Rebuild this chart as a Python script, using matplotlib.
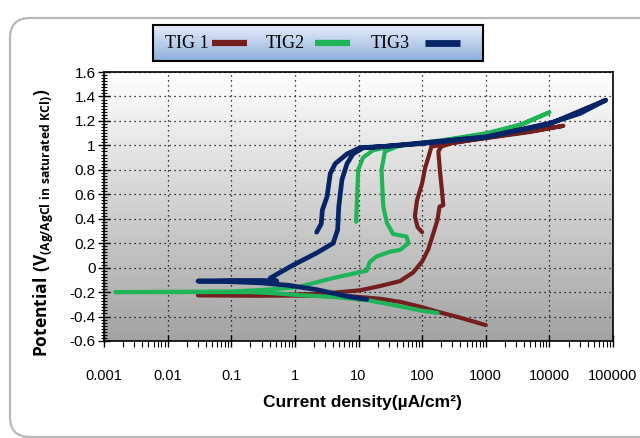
import matplotlib
matplotlib.use("Agg")
import matplotlib.pyplot as plt
import numpy as np
from matplotlib.patches import FancyBboxPatch
from matplotlib.colors import LinearSegmentedColormap
from matplotlib.ticker import FixedLocator, MultipleLocator, LogLocator, NullFormatter
from matplotlib import font_manager

# TIG 1 : cathodic -> anodic -> transpassive -> reverse scan
tig1_i = [1000, 400, 174, 94, 45, 22, 8, 2, 0.3, 0.03,
          0.3, 2.5, 10.7, 22, 45, 72, 100, 125, 150, 174, 188, 215, 205, 190, 180, 200,
          300, 1040, 5000, 16600,
          5000, 1040, 300, 140, 125, 112, 100, 83, 77, 85, 100]
tig1_v = [-0.47, -0.41, -0.36, -0.32, -0.28, -0.255, -0.235, -0.23, -0.228, -0.225,
          -0.225, -0.215, -0.185, -0.15, -0.11, -0.04, 0.05, 0.15, 0.28, 0.39, 0.5, 0.51, 0.63, 0.8, 0.95, 0.99,
          1.02, 1.065, 1.115, 1.16,
          1.11, 1.06, 1.02, 0.99, 0.9, 0.82, 0.69, 0.55, 0.42, 0.33, 0.29]

# TIG2
tig2_i = [174, 94, 31, 13.5, 4, 1.2, 0.5, 0.2, 0.0015,
          0.1, 0.36, 1.1, 4, 13.5, 15, 19, 31, 45, 61, 57, 35, 28, 24.5, 23, 26, 45,
          200, 1040, 3500, 10000,
          3500, 1040, 200, 31, 17, 11.8, 9.9, 9.5, 9.2]
tig2_v = [-0.37, -0.35, -0.3, -0.265, -0.24, -0.225, -0.21, -0.2, -0.2,
          -0.195, -0.18, -0.16, -0.085, -0.025, 0.045, 0.09, 0.13, 0.145, 0.2, 0.253, 0.275, 0.365, 0.5, 0.8, 0.95, 1.0,
          1.04, 1.1, 1.17, 1.27,
          1.165, 1.095, 1.035, 0.99, 0.96, 0.9, 0.8, 0.58, 0.375]

# TIG3
tig3_i = [13.5, 7.4, 2.2, 0.8, 0.3, 0.1, 0.03,
          0.1, 0.3, 0.52, 0.41, 0.93, 2.2, 4, 4.7, 4.9, 5.5, 6.6, 8.2, 11.8, 24,
          100, 1000, 10000, 30000, 77000,
          10000, 1000, 100, 24, 10.5, 6.6, 4.3, 3.6, 3.2, 2.7, 2.6, 2.2]
tig3_v = [-0.26, -0.24, -0.18, -0.145, -0.125, -0.115, -0.11,
          -0.105, -0.105, -0.11, -0.085, 0.02, 0.12, 0.2, 0.31, 0.5, 0.72, 0.85, 0.93, 0.98, 0.99,
          1.02, 1.07, 1.18, 1.26, 1.37,
          1.175, 1.065, 1.015, 0.99, 0.98, 0.93, 0.85, 0.77, 0.58, 0.47, 0.36, 0.29]

series_names = ["TIG 1", "TIG2", "TIG3"]
series_colors = ["#731f1f", "#1fb457", "#062566"]

x_ticks = [0.001, 0.01, 0.1, 1, 10, 100, 1000, 10000, 100000]
x_tick_labels = ["0.001", "0.01", "0.1", "1", "10", "100", "1000", "10000", "100000"]
y_ticks = [-0.6, -0.4, -0.2, 0, 0.2, 0.4, 0.6, 0.8, 1, 1.2, 1.4, 1.6]
y_tick_labels = ["-0.6", "-0.4", "-0.2", "0", "0.2", "0.4", "0.6", "0.8", "1", "1.2", "1.4", "1.6"]

# narrow font if there is one, else Liberation Sans (Arial metrics)
names = {f.name for f in font_manager.fontManager.ttflist}
if "Liberation Sans Narrow" in names:
    narrow, nsize = "Liberation Sans Narrow", 12
else:
    narrow, nsize = "Liberation Sans", 10.5
plt.rcParams["mathtext.fontset"] = "custom"
plt.rcParams["mathtext.bf"] = "Open Sans:bold"
plt.rcParams["mathtext.rm"] = "Open Sans"

fig = plt.figure(figsize=(6.4, 4.38), dpi=100)

# outer rounded frame (pixel coords, runs off the right side)
frame = FancyBboxPatch((10, 1), 700, 419,
                       boxstyle="round,pad=0,rounding_size=20",
                       transform=None, facecolor="none",
                       edgecolor="#b8b8b8", linewidth=1.6, zorder=-1)
fig.add_artist(frame)

ax = fig.add_axes([104 / 640, 1 - 341 / 438, 509 / 640, 269 / 438])
ax.set_xscale("log")

# gray gradient background
bg = LinearSegmentedColormap.from_list("bg", ["#a3a3a3", "#ffffff"])
grad = np.linspace(0, 1, 256).reshape(-1, 1)
ax.imshow(grad, extent=[0, 1, 0, 1], transform=ax.transAxes, aspect="auto",
          cmap=bg, origin="lower", zorder=0)

lws = [3.0, 3.0, 3.4]
ax.plot(tig1_i, tig1_v, color=series_colors[0], lw=lws[0], solid_capstyle="round", solid_joinstyle="round", zorder=3)
ax.plot(tig2_i, tig2_v, color=series_colors[1], lw=lws[1], solid_capstyle="round", solid_joinstyle="round", zorder=4)
ax.plot(tig3_i, tig3_v, color=series_colors[2], lw=lws[2], solid_capstyle="round", solid_joinstyle="round", zorder=5)

ax.set_xlim(0.001, 100000)
ax.set_ylim(-0.6, 1.6)

ax.xaxis.set_major_locator(FixedLocator(x_ticks))
ax.set_xticklabels(x_tick_labels, family=narrow, fontsize=nsize)
ax.xaxis.set_minor_locator(LogLocator(base=10, subs=np.arange(2, 10), numticks=20))
ax.xaxis.set_minor_formatter(NullFormatter())
ax.yaxis.set_major_locator(FixedLocator(y_ticks))
ax.set_yticklabels(y_tick_labels, family=narrow, fontsize=nsize + 0.5)
ax.yaxis.set_minor_locator(MultipleLocator(0.025))

ax.tick_params(axis="x", which="major", direction="inout", length=9, width=1, pad=16)
ax.tick_params(axis="x", which="minor", direction="out", length=4, width=0.8)
ax.tick_params(axis="y", which="major", direction="inout", length=8, width=1, pad=2)
ax.tick_params(axis="y", which="minor", direction="inout", length=4, width=0.8)

ax.grid(True, which="major", color="black", linestyle=(0, (1, 3)), linewidth=0.9, zorder=1)
for s in ax.spines.values():
    s.set_linewidth(1.2)
    s.set_color("black")
    s.set_zorder(6)

fig.text(362 / 640, 1 - 402 / 438, "Current density(µA/cm²)", family=narrow,
         fontsize=12.5, fontweight="bold", ha="center", va="center")
fig.text(44 / 640, 1 - 223 / 438,
         r"$\mathbf{Potential\ (V_{(Ag/AgCl\ in\ saturated\ KCl)})}$",
         fontsize=12.5, rotation=90, ha="center", va="center")

# legend box with blue gradient
lax = fig.add_axes([153 / 640, 1 - 61 / 438, 330 / 640, 36 / 438])
lcm = LinearSegmentedColormap.from_list("lg", ["#8eaedb", "#e6eefa"])
lax.imshow(grad, extent=[0, 1, 0, 1], aspect="auto", cmap=lcm, origin="lower")
lax.set_xlim(0, 1)
lax.set_ylim(0, 1)
lax.set_xticks([])
lax.set_yticks([])
for s in lax.spines.values():
    s.set_linewidth(1.5)
    s.set_color("black")

text_x = [0.035, 0.34, 0.66]
swatch_x = [(0.18, 0.285), (0.49, 0.597), (0.824, 0.93)]
for name, col, tx, (s0, s1), lw in zip(series_names, series_colors, text_x, swatch_x, lws):
    lax.text(tx, 0.48, name, family="Liberation Serif", fontsize=13, va="center", ha="left")
    lax.plot([s0, s1], [0.5, 0.5], color=col, lw=lw + 1.5, solid_capstyle="butt")

fig.savefig("out.png", dpi=100)
